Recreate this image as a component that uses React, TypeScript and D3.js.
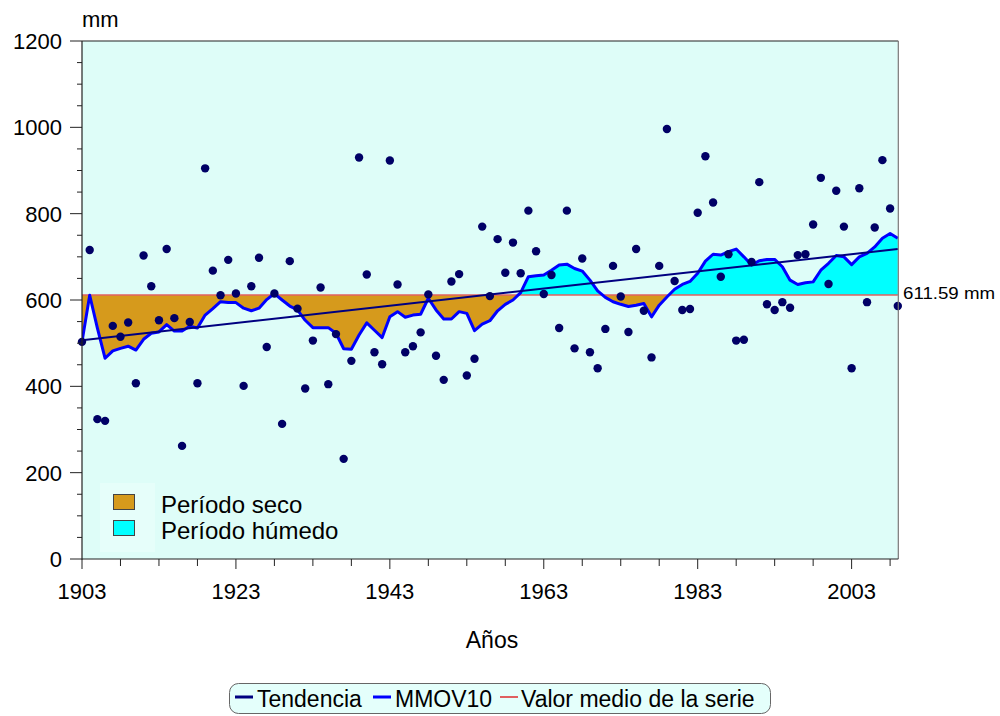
import React from "react";
import * as d3 from "d3";

// ---- data ----
const FIRST_YEAR = 1903;
const LAST_YEAR = 2009;
// annual precipitation (mm), 1903..2009
const precip: number[] = [
  503, 716, 324, 320, 540, 515, 548, 407, 703, 632, // 1903-1912
  553, 718, 558, 262, 549, 407, 905, 668, 611, 693, // 1913-1922
  615, 401, 632, 698, 491, 615, 313, 690, 580, 395, // 1923-1932
  506, 629, 405, 521, 232, 459, 930, 659, 479, 451, // 1933-1942
  923, 636, 479, 493, 525, 613, 471, 415, 643, 660, // 1943-1952
  425, 464, 770, 609, 741, 663, 733, 662, 807, 713, // 1953-1962
  614, 658, 535, 807, 488, 696, 479, 442, 533, 679, // 1963-1972
  608, 526, 718, 575, 467, 679, 996, 644, 577, 579, // 1973-1982
  802, 933, 826, 654, 706, 506, 508, 688, 873, 590, // 1983-1992
  577, 595, 582, 704, 706, 775, 883, 637, 853, 770, // 1993-2002
  442, 859, 595, 768, 924, 812, 586,                // 2003-2009
];
// MMOV10 line values, 1903..2009
const mmov10: number[] = [
  503, 611, 535, 465, 482, 488, 493, 484, 509, 523, // 1903-1912
  526, 543, 528, 528, 539, 535, 565, 580, 596, 594, // 1913-1922
  594, 581, 575, 581, 601, 615, 600, 586, 577, 553, // 1923-1932
  536, 536, 536, 523, 487, 486, 519, 547, 530, 513, // 1933-1942
  561, 573, 560, 565, 567, 604, 577, 556, 556, 573, // 1943-1952
  569, 529, 544, 552, 575, 590, 600, 617, 654, 656, // 1953-1962
  658, 669, 681, 683, 673, 667, 646, 621, 606, 596, // 1963-1972
  590, 585, 588, 592, 561, 588, 607, 625, 636, 643, // 1973-1982
  662, 690, 706, 704, 712, 718, 700, 681, 691, 694, // 1983-1992
  694, 677, 646, 636, 640, 642, 669, 685, 703, 700, // 1993-2002
  682, 700, 708, 723, 743, 754, 743,                // 2003-2009
];
const MEAN_VALUE = 611.59;
const TREND_START = 507; // trend value at FIRST_YEAR
const TREND_END = 718; // trend value at LAST_YEAR
const yTicksMajor = [0, 200, 400, 600, 800, 1000, 1200];
const xTickLabels = [1903, 1923, 1943, 1963, 1983, 2003];

const FONT = '"Liberation Sans", Arial, sans-serif';
const BG = "#DEFDF8";
const DRY = "#D69A1C";
const WET = "#00FFFF";
const NAVY = "#000066";
const TREND = "#000080";
const MMOV = "#0000FF";
const MEANC = "#E06060";

export default function App() {
  const left = 82, right = 897.8, top = 41, bottom = 559;
  const x = d3.scaleLinear().domain([FIRST_YEAR, LAST_YEAR]).range([left, right]);
  const y = d3.scaleLinear().domain([0, 1200]).range([bottom, top]);

  const pts = precip.map((v, i) => ({ year: FIRST_YEAR + i, v }));
  const mmov = mmov10.map((v, i) => ({ year: FIRST_YEAR + i, v }));

  const yMean = y(MEAN_VALUE);
  const area = d3
    .area<{ year: number; v: number }>()
    .x((d) => x(d.year))
    .y0(yMean)
    .y1((d) => y(d.v));
  const line = d3
    .line<{ year: number; v: number }>()
    .x((d) => x(d.year))
    .y((d) => y(d.v));

  const yMinor = d3.range(0, 1201, 50).filter((v) => v % 200 !== 0);
  const xAllTicks = d3.range(FIRST_YEAR, LAST_YEAR + 1, 5);

  return (
    <svg
      width={1000}
      height={716}
      style={{ position: "absolute", left: 0, top: 0, display: "block", background: "#fff" }}
      fontFamily={FONT}
    >
      <defs>
        <clipPath id="wetClip">
          <rect x={left} y={top} width={right - left + 1} height={yMean - top} />
        </clipPath>
        <clipPath id="dryClip">
          <rect x={left} y={yMean} width={right - left + 1} height={bottom - yMean} />
        </clipPath>
        <clipPath id="plotClip">
          <rect x={left} y={top} width={right - left + 1} height={bottom - top} />
        </clipPath>
      </defs>

      {/* plot background */}
      <rect x={left} y={top} width={right - left} height={bottom - top} fill={BG} />

      {/* filled periods */}
      <path d={area(mmov) as string} fill={WET} clipPath="url(#wetClip)" />
      <path d={area(mmov) as string} fill={DRY} clipPath="url(#dryClip)" />

      {/* mean line */}
      <line x1={left} x2={right} y1={yMean} y2={yMean} stroke={MEANC} strokeWidth={1.5} />

      <g clipPath="url(#plotClip)">
        {/* moving average */}
        <path d={line(mmov) as string} fill="none" stroke={MMOV} strokeWidth={3} strokeLinejoin="round" />
        {/* trend */}
        <line
          x1={x(FIRST_YEAR)}
          x2={x(LAST_YEAR)}
          y1={y(TREND_START)}
          y2={y(TREND_END)}
          stroke={TREND}
          strokeWidth={2}
        />
      </g>

      {/* points */}
      {pts.map((p) => (
        <circle key={p.year} cx={x(p.year)} cy={y(p.v)} r={4.2} fill={NAVY} />
      ))}

      {/* in-plot legend */}
      <rect x={100} y={483} width={55} height={69} fill="#E6FEFA" />
      <rect x={113.5} y={494.5} width={21} height={15} fill={DRY} stroke="#444" strokeWidth={1} />
      <rect x={113.5} y={520.5} width={21} height={15} fill={WET} stroke="#444" strokeWidth={1} />
      <text x={161} y={513} fontSize={24} fill="#000">Período seco</text>
      <text x={161} y={538.5} fontSize={24} fill="#000">Período húmedo</text>

      {/* borders */}
      <line x1={left} x2={right + 0.5} y1={top} y2={top} stroke="#222" strokeWidth={1.2} />
      <line x1={right + 0.5} x2={right + 0.5} y1={top} y2={bottom} stroke="#777" strokeWidth={1.2} />
      <line x1={left} x2={left} y1={top} y2={bottom + 0.5} stroke="#222" strokeWidth={1.2} />
      <line x1={left} x2={right + 0.5} y1={bottom} y2={bottom} stroke="#222" strokeWidth={1.2} />

      {/* y ticks */}
      {yTicksMajor.map((v) => (
        <g key={"ym" + v}>
          <line x1={70} x2={left} y1={y(v)} y2={y(v)} stroke="#222" strokeWidth={1} />
          <text x={62} y={y(v) + 7.9} fontSize={22} textAnchor="end" fill="#000">
            {v}
          </text>
        </g>
      ))}
      {yMinor.map((v) => (
        <line key={"yn" + v} x1={77} x2={left} y1={y(v)} y2={y(v)} stroke="#222" strokeWidth={1} />
      ))}

      {/* x ticks */}
      {xAllTicks.map((t) => {
        const major = (t - FIRST_YEAR) % 20 === 0;
        return (
          <line
            key={"xt" + t}
            x1={x(t)}
            x2={x(t)}
            y1={bottom}
            y2={bottom + (major ? 10 : 7)}
            stroke="#222"
            strokeWidth={1}
          />
        );
      })}
      {xTickLabels.map((t) => (
        <text key={"xl" + t} x={x(t)} y={599} fontSize={22} textAnchor="middle" fill="#000">
          {t}
        </text>
      ))}

      {/* axis titles */}
      <text x={82} y={27} fontSize={22} fill="#000">mm</text>
      <text x={492} y={648} fontSize={23} textAnchor="middle" fill="#000">Años</text>

      {/* mean label */}
      <text x={903} y={298.5} fontSize={16} fill="#000" textLength={92} lengthAdjust="spacingAndGlyphs">
        {MEAN_VALUE.toFixed(2)} mm
      </text>

      {/* bottom legend */}
      <rect x={229.5} y={683.5} width={541} height={30} rx={9} fill="#E4FFFB" stroke="#666" strokeWidth={1} />
      <line x1={235} x2={253} y1={697} y2={697} stroke={TREND} strokeWidth={3} />
      <text x={257} y={707} fontSize={23} fill="#000">Tendencia</text>
      <line x1={373} x2={391} y1={697} y2={697} stroke={MMOV} strokeWidth={3} />
      <text x={395} y={707} fontSize={23} fill="#000">MMOV10</text>
      <line x1={500} x2={518} y1={697} y2={697} stroke={MEANC} strokeWidth={2} />
      <text x={521} y={707} fontSize={23} fill="#000">Valor medio de la serie</text>
    </svg>
  );
}
